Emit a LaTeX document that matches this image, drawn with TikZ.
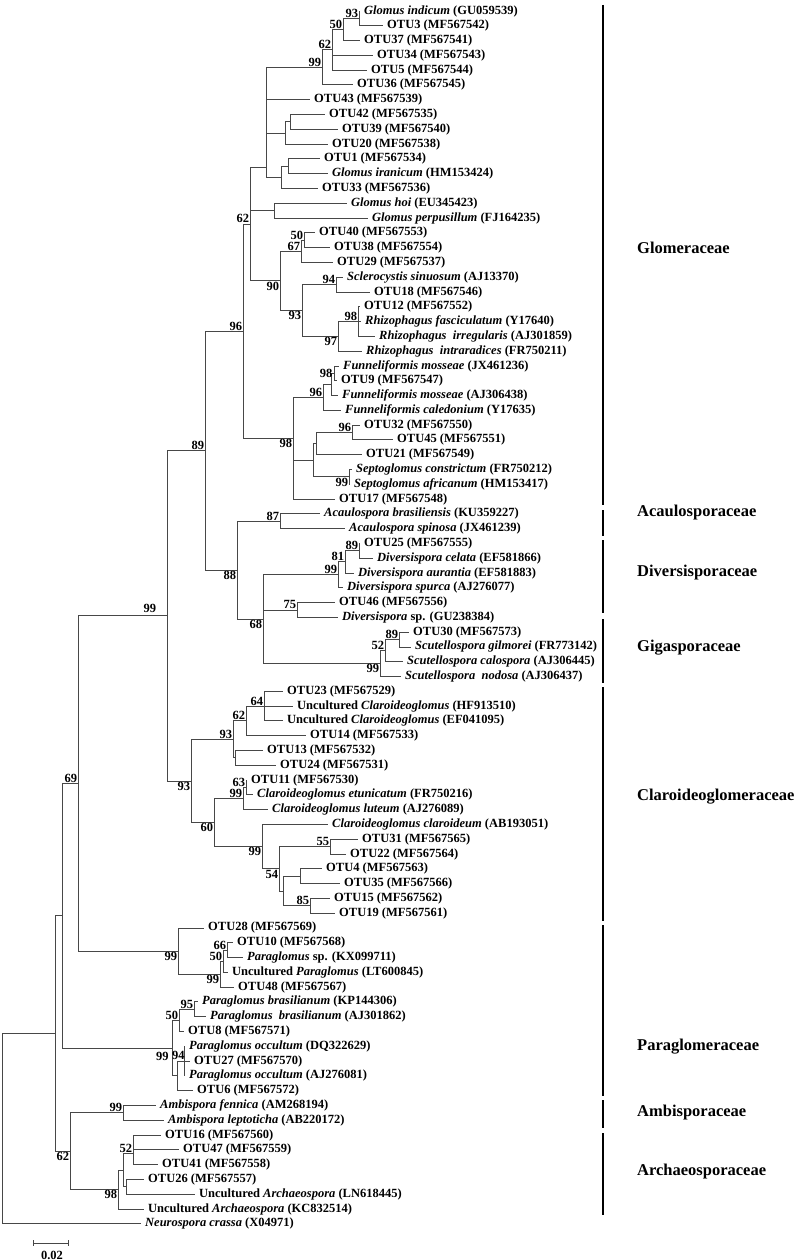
\documentclass[tikz,border=0pt]{standalone}
\usepackage{fontspec}
\setmainfont{Liberation Serif}
\newcommand\tf{\fontsize{12.5}{14}\selectfont\bfseries}
\begin{document}
\begin{tikzpicture}[x=1pt,y=-14.79pt,
 br/.style={draw=black!72, line width=0.9pt},
 leaf/.style={anchor=west, inner xsep=4pt, inner ysep=0pt, font=\tf},
 bsa/.style={anchor=south east, inner sep=0.8pt, font=\tf},
 bsb/.style={anchor=north east, inner sep=0.8pt, font=\tf},
 bsl/.style={anchor=east, inner sep=1.5pt, font=\tf},
 fam/.style={anchor=west, inner sep=0pt, font=\fontsize{16.5}{18}\selectfont\bfseries},
 bar/.style={draw=black, line width=2pt}]
\fill[white] (0pt,0pt) rectangle (800pt,-1260pt);
\useasboundingbox (0pt,0pt) rectangle (800pt,-1260pt);
\begin{scope}[yshift=-11pt]
% ---------- leaves ----------
\node[leaf] (L1) at (360,0) {\textit{Glomus indicum} (GU059539)};
\node[leaf] (L2) at (383,1) {OTU3 (MF567542)};
\node[leaf] (L3) at (360,2) {OTU37 (MF567541)};
\node[leaf] (L4) at (373,3) {OTU34 (MF567543)};
\node[leaf] (L5) at (367,4) {OTU5 (MF567544)};
\node[leaf] (L6) at (353,5) {OTU36 (MF567545)};
\node[leaf] (L7) at (310,6) {OTU43 (MF567539)};
\node[leaf] (L8) at (325,7) {OTU42 (MF567535)};
\node[leaf] (L9) at (338,8) {OTU39 (MF567540)};
\node[leaf] (L10) at (328,9) {OTU20 (MF567538)};
\node[leaf] (L11) at (320,10) {OTU1 (MF567534)};
\node[leaf] (L12) at (328,11) {\textit{Glomus iranicum} (HM153424)};
\node[leaf] (L13) at (318,12) {OTU33 (MF567536)};
\node[leaf] (L14) at (347,13) {\textit{Glomus hoi} (EU345423)};
\node[leaf] (L15) at (368,14) {\textit{Glomus perpusillum} (FJ164235)};
\node[leaf] (L16) at (315,15) {OTU40 (MF567553)};
\node[leaf] (L17) at (330,16) {OTU38 (MF567554)};
\node[leaf] (L18) at (333,17) {OTU29 (MF567537)};
\node[leaf] (L19) at (343,18) {\textit{Sclerocystis sinuosum} (AJ13370)};
\node[leaf] (L20) at (370,19) {OTU18 (MF567546)};
\node[leaf] (L21) at (360,20) {OTU12 (MF567552)};
\node[leaf] (L22) at (361,21) {\textit{Rhizophagus fasciculatum} (Y17640)};
\node[leaf] (L23) at (375,22) {\textit{Rhizophagus\ \ irregularis} (AJ301859)};
\node[leaf] (L24) at (362,23) {\textit{Rhizophagus\ \ intraradices} (FR750211)};
\node[leaf] (L25) at (339,24) {\textit{Funneliformis mosseae} (JX461236)};
\node[leaf] (L26) at (337,25) {OTU9 (MF567547)};
\node[leaf] (L27) at (338,26) {\textit{Funneliformis mosseae} (AJ306438)};
\node[leaf] (L28) at (341,27) {\textit{Funneliformis caledonium} (Y17635)};
\node[leaf] (L29) at (360,28) {OTU32 (MF567550)};
\node[leaf] (L30) at (393,29) {OTU45 (MF567551)};
\node[leaf] (L31) at (362,30) {OTU21 (MF567549)};
\node[leaf] (L32) at (352,31) {\textit{Septoglomus constrictum} (FR750212)};
\node[leaf] (L33) at (350,32) {\textit{Septoglomus africanum} (HM153417)};
\node[leaf] (L34) at (335,33) {OTU17 (MF567548)};
\node[leaf] (L35) at (320,34) {\textit{Acaulospora brasiliensis} (KU359227)};
\node[leaf] (L36) at (345,35) {\textit{Acaulospora spinosa} (JX461239)};
\node[leaf] (L37) at (360,36) {OTU25 (MF567555)};
\node[leaf] (L38) at (373,37) {\textit{Diversispora celata} (EF581866)};
\node[leaf] (L39) at (354,38) {\textit{Diversispora aurantia} (EF581883)};
\node[leaf] (L40) at (343,39) {\textit{Diversispora spurca} (AJ276077)};
\node[leaf] (L41) at (335,40) {OTU46 (MF567556)};
\node[leaf] (L42) at (338,41) {\textit{Diversispora} sp. (GU238384)};
\node[leaf] (L43) at (409,42) {OTU30 (MF567573)};
\node[leaf] (L44) at (411,43) {\textit{Scutellospora gilmorei} (FR773142)};
\node[leaf] (L45) at (403,44) {\textit{Scutellospora calospora} (AJ306445)};
\node[leaf] (L46) at (401,45) {\textit{Scutellospora\ \ nodosa} (AJ306437)};
\node[leaf] (L47) at (283,46) {OTU23 (MF567529)};
\node[leaf] (L48) at (293,47) {Uncultured \textit{Claroideoglomus} (HF913510)};
\node[leaf] (L49) at (283,48) {Uncultured \textit{Claroideoglomus} (EF041095)};
\node[leaf] (L50) at (306,49) {OTU14 (MF567533)};
\node[leaf] (L51) at (263,50) {OTU13 (MF567532)};
\node[leaf] (L52) at (276,51) {OTU24 (MF567531)};
\node[leaf] (L53) at (247,52) {OTU11 (MF567530)};
\node[leaf] (L54) at (253,53) {\textit{Claroideoglomus etunicatum} (FR750216)};
\node[leaf] (L55) at (268,54) {\textit{Claroideoglomus luteum} (AJ276089)};
\node[leaf] (L56) at (328,55) {\textit{Claroideoglomus claroideum} (AB193051)};
\node[leaf] (L57) at (358,56) {OTU31 (MF567565)};
\node[leaf] (L58) at (346,57) {OTU22 (MF567564)};
\node[leaf] (L59) at (322,58) {OTU4 (MF567563)};
\node[leaf] (L60) at (340,59) {OTU35 (MF567566)};
\node[leaf] (L61) at (330,60) {OTU15 (MF567562)};
\node[leaf] (L62) at (335,61) {OTU19 (MF567561)};
\node[leaf] (L63) at (204,62) {OTU28 (MF567569)};
\node[leaf] (L64) at (233,63) {OTU10 (MF567568)};
\node[leaf] (L65) at (243,64) {\textit{Paraglomus} sp. (KX099711)};
\node[leaf] (L66) at (228,65) {Uncultured \textit{Paraglomus} (LT600845)};
\node[leaf] (L67) at (234,66) {OTU48 (MF567567)};
\node[leaf] (L68) at (198,67) {\textit{Paraglomus brasilianum} (KP144306)};
\node[leaf] (L69) at (206,68) {\textit{Paraglomus\ \ brasilianum} (AJ301862)};
\node[leaf] (L70) at (184,69) {OTU8 (MF567571)};
\node[leaf] (L71) at (185,70) {\textit{Paraglomus occultum} (DQ322629)};
\node[leaf] (L72) at (190,71) {OTU27 (MF567570)};
\node[leaf] (L73) at (185,72) {\textit{Paraglomus occultum} (AJ276081)};
\node[leaf] (L74) at (193,73) {OTU6 (MF567572)};
\node[leaf] (L75) at (156,74) {\textit{Ambispora fennica} (AM268194)};
\node[leaf] (L76) at (164,75) {\textit{Ambispora leptoticha} (AB220172)};
\node[leaf] (L77) at (161,76) {OTU16 (MF567560)};
\node[leaf] (L78) at (179,77) {OTU47 (MF567559)};
\node[leaf] (L79) at (158,78) {OTU41 (MF567558)};
\node[leaf] (L80) at (144,79) {OTU26 (MF567557)};
\node[leaf] (L81) at (195,80) {Uncultured \textit{Archaeospora} (LN618445)};
\node[leaf] (L82) at (144,81) {Uncultured \textit{Archaeospora} (KC832514)};
\node[leaf] (L83) at (141,82) {\textit{Neurospora crassa} (X04971)};
% ---------- internal nodes ----------
\coordinate (n93) at (359,0.5);
\coordinate (n50) at (343,1.25);
\coordinate (n62a) at (332,2.625);
\coordinate (n99a) at (322,3.8125);
\coordinate (n4239) at (290,7.5);
\coordinate (n42g) at (285,8.25);
\coordinate (n1ir) at (288,10.5);
\coordinate (n1g) at (281,11.25);
\coordinate (nG1) at (266,10.55);
\coordinate (nhoi) at (274,13.5);
\coordinate (n50b) at (304,15.5);
\coordinate (n67) at (301,16.25);
\coordinate (n94) at (336,18.5);
\coordinate (n98a) at (358,21);
\coordinate (n97) at (338,22);
\coordinate (n93a) at (302,20.25);
\coordinate (n90) at (280,18.25);
\coordinate (n62b) at (250,14.4);
\coordinate (n98c) at (334,24.5);
\coordinate (nfm) at (331,25.25);
\coordinate (n96b) at (323,26.125);
\coordinate (n96c) at (352,28.5);
\coordinate (nA) at (316,29.25);
\coordinate (n99s) at (349,31.5);
\coordinate (nB) at (313,30.375);
\coordinate (n98b) at (293,28.9);
\coordinate (n96) at (243,21.65);
\coordinate (n87) at (280,34.5);
\coordinate (n89d) at (359,36.5);
\coordinate (n81) at (345,37.25);
\coordinate (n99v) at (338,38.125);
\coordinate (n75) at (297,40.5);
\coordinate (n89g) at (399,42.5);
\coordinate (n52) at (385,43.25);
\coordinate (n99g) at (380,44.125);
\coordinate (n68) at (263,41.125);
\coordinate (n88) at (237,37.81);
\coordinate (n89) at (205,29.73);
\coordinate (n64) at (264,47);
\coordinate (n62c) at (246,48);
\coordinate (n1324) at (235,50.5);
\coordinate (n93c) at (233,49.25);
\coordinate (n63) at (246,52.5);
\coordinate (n99c) at (243,53.25);
\coordinate (n55) at (330,56.5);
\coordinate (n435) at (300,58.5);
\coordinate (n85) at (310,60.5);
\coordinate (nV) at (283,59.5);
\coordinate (nW) at (279,58);
\coordinate (nZ) at (262,56.5);
\coordinate (n60) at (214,54.875);
\coordinate (n93b) at (191,52.06);
\coordinate (n99big) at (167,40.9);
\coordinate (n66) at (227,63.5);
\coordinate (n50p) at (223,64.25);
\coordinate (n99pB) at (220,65.125);
\coordinate (n99pA) at (178,63.56);
\coordinate (n95) at (194,67.5);
\coordinate (n50q) at (179,68.25);
\coordinate (n94p) at (184,71);
\coordinate (n99q) at (177,72);
\coordinate (n172) at (172,70.125);
\coordinate (nA78) at (78,52.23);
\coordinate (n62x) at (62,61.18);
\coordinate (n99amb) at (123,74.5);
\coordinate (n133) at (133,77.25);
\coordinate (n126) at (126,79.5);
\coordinate (nY2) at (123,78.375);
\coordinate (n98arch) at (118,79.69);
\coordinate (n62arch) at (70,77.09);
\coordinate (nX) at (55,69.135);
\coordinate (root) at (2,75.5);
% ---------- branches ----------
\foreach \p/\cs in {
 n93/{L1.west,L2.west}, n50/{n93,L3.west}, n62a/{n50,L4.west,L5.west},
 n99a/{n62a,L6.west}, nG1/{n99a,L7.west,n42g,n1g}, n4239/{L8.west,L9.west},
 n42g/{n4239,L10.west}, n1ir/{L11.west,L12.west}, n1g/{n1ir,L13.west},
 nhoi/{L14.west,L15.west}, n50b/{L16.west,L17.west}, n67/{n50b,L18.west},
 n94/{L19.west,L20.west}, n98a/{L21.west,L22.west,L23.west}, n97/{n98a,L24.west},
 n93a/{n94,n97}, n90/{n67,n93a}, n62b/{nG1,nhoi,n90},
 n98c/{L25.west,L26.west}, nfm/{n98c,L27.west}, n96b/{nfm,L28.west},
 n96c/{L29.west,L30.west}, nA/{n96c,L31.west}, n99s/{L32.west,L33.west},
 nB/{nA,n99s}, n98b/{n96b,nB,L34.west}, n96/{n62b,n98b},
 n87/{L35.west,L36.west}, n89d/{L37.west,L38.west}, n81/{n89d,L39.west},
 n99v/{n81,L40.west}, n75/{L41.west,L42.west}, n89g/{L43.west,L44.west},
 n52/{n89g,L45.west}, n99g/{n52,L46.west}, n68/{n99v,n75,n99g},
 n88/{n87,n68}, n89/{n96,n88},
 n64/{L47.west,L48.west,L49.west}, n62c/{n64,L50.west}, n1324/{L51.west,L52.west},
 n93c/{n62c,n1324}, n63/{L53.west,L54.west}, n99c/{n63,L55.west},
 n55/{L57.west,L58.west}, n435/{L59.west,L60.west}, n85/{L61.west,L62.west},
 nV/{n435,n85}, nW/{n55,nV}, nZ/{L56.west,nW}, n60/{n99c,nZ},
 n93b/{n93c,n60}, n99big/{n89,n93b},
 n66/{L64.west,L65.west}, n50p/{n66,L66.west}, n99pB/{n50p,L67.west},
 n99pA/{L63.west,n99pB}, n95/{L68.west,L69.west}, n50q/{n95,L70.west},
 n94p/{L71.west,L72.west,L73.west}, n99q/{n94p,L74.west}, n172/{n50q,n99q},
 nA78/{n99big,n99pA}, n62x/{nA78,n172},
 n99amb/{L75.west,L76.west}, n133/{L77.west,L78.west,L79.west},
 n126/{L80.west,L81.west}, nY2/{n133,n126}, n98arch/{nY2,L82.west},
 n62arch/{n99amb,n98arch}, nX/{n62x,n62arch}, root/{nX,L83.west}}
 { \foreach \c in \cs { \draw[br] (\p) |- (\c); } }
% ---------- bootstrap values ----------
\node[bsa] (b1) at (n93) {93};
\node[bsa] (b2) at (n50) {50};
\node[bsa] (b3) at (n62a) {62};
\node[bsa] (b4) at (n99a) {99};
\node[bsa] (b5) at (n62b) {62};
\node[bsa] (b6) at (n50b) {50};
\node[bsa] (b7) at (n67) {67};
\node[bsb] (b8) at (n90) {90};
\node[bsa] (b9) at (n94) {94};
\node[bsb] (b10) at (n93a) {93};
\node[bsa] (b11) at (n98a) {98};
\node[bsb] (b12) at (n97) {97};
\node[bsl] (b13) at (n98c) {98};
\node[bsa] (b14) at (n96b) {96};
\node[bsa] (b15) at (n96c) {96};
\node[bsb] (b16) at (n99s) {99};
\node[bsb] (b17) at (n98b) {98};
\node[bsa] (b18) at (n96) {96};
\node[bsa] (b19) at (n89) {89};
\node[bsa] (b20) at (n87) {87};
\node[bsa] (b21) at (n89d) {89};
\node[bsa] (b22) at (n81) {81};
\node[bsa] (b23) at (n99v) {99};
\node[bsa] (b24) at (n75) {75};
\node[bsb] (b25) at (n68) {68};
\node[bsb] (b26) at (n88) {88};
\node[bsa] (b27) at (n89g) {89};
\node[bsa] (b28) at (n52) {52};
\node[bsb] (b29) at (n99g) {99};
\node[bsa] (b30) at (n64) {64};
\node[bsa] (b31) at (n62c) {62};
\node[bsa] (b32) at (n93c) {93};
\node[bsb] (b33) at (n93b) {93};
\node[bsa] (b34) at (n63) {63};
\node[bsa] (b35) at (n99c) {99};
\node[bsb] (b36) at (n60) {60};
\node[bsa] (b37) at (n55) {55};
\node[bsb] (b38) at (nZ) {99};
\node[bsb] (b39) at (nW) {54};
\node[bsa] (b40) at (n85) {85};
\node[bsa, xshift=-10pt, yshift=2pt] (b41) at (n99big) {99};
\node[bsa] (b42) at (nA78) {69};
\node[bsa] (b43) at (n66) {66};
\node[bsa] (b44) at (n50p) {50};
\node[bsb] (b45) at (n99pB) {99};
\node[bsb] (b46) at (n99pA) {99};
\node[bsa] (b47) at (n95) {95};
\node[bsa] (b48) at (n50q) {50};
\node[bsa, xshift=1.5pt] (b49) at (n94p) {94};
\node[bsb, xshift=-2.5pt, yshift=-3pt] (b50) at (n172) {99};
\node[bsa] (b51) at (n99amb) {99};
\node[bsa] (b52) at (n133) {52};
\node[bsb] (b53) at (n98arch) {98};
\node[bsb] (b54) at (n62arch) {62};
\end{scope}
% ---------- family bars ----------
\coordinate (g1) at (603pt,-5pt);    \coordinate (g2) at (603pt,-505pt);
\coordinate (a1) at (603pt,-510pt);  \coordinate (a2) at (603pt,-536pt);
\coordinate (d1) at (603pt,-540pt);  \coordinate (d2) at (603pt,-613pt);
\coordinate (s1) at (603pt,-619pt);  \coordinate (s2) at (603pt,-683pt);
\coordinate (c1) at (603pt,-687pt);  \coordinate (c2) at (603pt,-921pt);
\coordinate (p1) at (603pt,-925pt);  \coordinate (p2) at (603pt,-1096pt);
\coordinate (m1) at (603pt,-1100pt); \coordinate (m2) at (603pt,-1128pt);
\coordinate (r1) at (603pt,-1133pt); \coordinate (r2) at (603pt,-1215pt);
\foreach \a/\b in {g1/g2,a1/a2,d1/d2,s1/s2,c1/c2,p1/p2,m1/m2,r1/r2} \draw[bar] (\a) -- (\b);
\node[fam] (F1) at (637pt,-248pt) {Glomeraceae};
\node[fam] (F2) at (637pt,-513pt) {Acaulosporaceae};
\node[fam] (F3) at (637pt,-573pt) {Diversisporaceae};
\node[fam] (F4) at (637pt,-648pt) {Gigasporaceae};
\node[fam] (F5) at (637pt,-797pt) {Claroideoglomeraceae};
\node[fam] (F6) at (637pt,-1047pt) {Paraglomeraceae};
\node[fam] (F7) at (637pt,-1113pt) {Ambisporaceae};
\node[fam] (F8) at (637pt,-1172pt) {Archaeosporaceae};
% ---------- scale bar ----------
\coordinate (sb1) at (33pt,-1243pt);
\coordinate (sb2) at (68pt,-1243pt);
\draw[br] (sb1) -- (sb2);
\draw[br] ([yshift=3pt]sb1) -- ([yshift=-3pt]sb1);
\draw[br] ([yshift=3pt]sb2) -- ([yshift=-3pt]sb2);
\node[font=\tf, inner sep=0pt] (sbl) at (52pt,-1255pt) {0.02};
\end{tikzpicture}
\end{document}
